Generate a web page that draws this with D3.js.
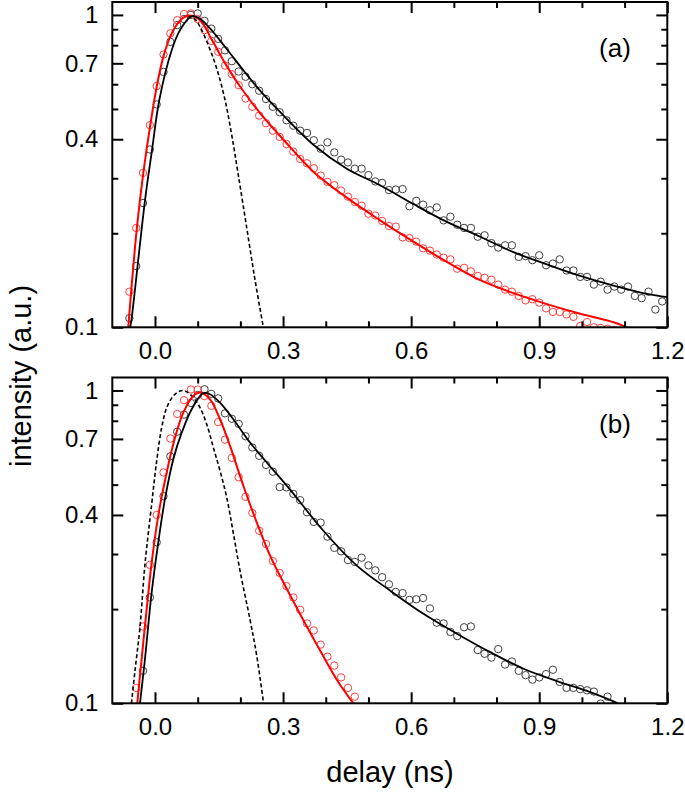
<!DOCTYPE html>
<html><head><meta charset="utf-8">
<script src="https://cdn.jsdelivr.net/npm/d3@7"></script>
<style>
body{margin:0;background:#fff}
svg{display:block}
text{font-family:"Liberation Sans",Arial,sans-serif;fill:#000}
</style>
</head><body>
<svg id="c" width="685" height="796"></svg>
<script>
// ---------- data ----------
const delay = [-0.060,-0.044,-0.028,-0.012,0.004,0.020,0.036,0.052,0.068,0.084,
0.100,0.116,0.132,0.148,0.164,0.180,0.196,0.212,0.228,0.244,
0.260,0.276,0.292,0.308,0.324,0.340,0.356,0.372,0.388,0.404,
0.420,0.436,0.452,0.468,0.484,0.500,0.516,0.532,0.548,0.564,
0.580,0.596,0.612,0.628,0.644,0.660,0.676,0.692,0.708,0.724,
0.740,0.756,0.772,0.788,0.804,0.820,0.836,0.852,0.868,0.884,
0.900,0.916,0.932,0.948,0.964,0.980,0.996,1.012,1.028,1.044,
1.060,1.076,1.092,1.108,1.124,1.140,1.156,1.172,1.188];

const aBlack = [0.107,0.157,0.250,0.371,0.517,0.657,0.820,0.928,0.970,1.000,
1.011,0.957,0.904,0.838,0.770,0.711,0.659,0.634,0.600,0.572,
0.538,0.508,0.488,0.460,0.442,0.426,0.419,0.397,0.373,0.391,
0.363,0.344,0.337,0.322,0.322,0.307,0.293,0.290,0.275,0.276,
0.277,0.244,0.254,0.247,0.237,0.242,0.220,0.226,0.213,0.208,
0.208,0.195,0.197,0.186,0.180,0.183,0.183,0.168,0.169,0.164,
0.170,0.158,0.160,0.165,0.152,0.152,0.145,0.145,0.137,0.140,
0.132,0.135,0.132,0.135,0.126,0.124,0.130,0.114,0.121];

const aRed = [0.130,0.208,0.312,0.444,0.592,0.747,0.873,0.962,1.006,1.011,
0.970,0.894,0.826,0.762,0.688,0.646,0.596,0.540,0.508,0.476,
0.450,0.426,0.407,0.386,0.365,0.346,0.335,0.323,0.306,0.292,
0.285,0.274,0.262,0.252,0.245,0.231,0.228,0.219,0.211,0.210,
0.194,0.193,0.188,0.179,0.176,0.171,0.167,0.165,0.154,0.155,
0.151,0.146,0.144,0.142,0.137,0.132,0.130,0.126,0.122,0.123,
0.120,0.115,0.112,0.112,0.110,0.108,0.101,0.104,0.100,0.0995,
0.099,0.098,0.097,null,null,null,null,null,null];

const bBlack = [null,null,0.127,0.218,0.327,0.459,0.616,0.738,0.837,0.912,
0.967,1.009,0.975,0.943,0.845,0.812,0.782,0.714,0.657,0.618,
0.578,0.550,0.491,0.490,0.467,0.446,0.408,0.380,0.378,0.341,
0.314,0.306,0.287,0.283,0.292,0.276,0.266,0.253,0.240,0.227,
0.225,0.214,0.215,0.217,0.201,0.181,0.180,0.169,0.164,0.175,
0.176,0.148,0.144,0.140,0.149,0.133,0.136,0.127,0.123,0.119,
0.121,0.124,0.128,0.117,0.112,0.112,0.111,0.110,0.109,0.0998,
0.105,0.098,null,null,null,null,null,null,null];

const bRed = [null,0.112,0.176,0.277,0.400,0.547,0.702,0.841,0.931,1.007,
1.007,0.960,0.893,0.792,0.696,0.609,0.528,0.457,0.406,0.356,
0.323,0.285,0.261,0.237,0.218,0.199,0.180,0.171,0.154,0.141,
0.132,0.121,0.112,0.105,null,null,null,null,null,null,
null,null,null,null,null,null,null,null,null,null,
null,null,null,null,null,null,null,null,null,null,
null,null,null,null,null,null,null,null,null,null,
null,null,null,null,null,null,null,null,null];

// fitted curves [delay, intensity]
const aBlackFit = [[-0.058,0.1],[-0.0546,0.107],[-0.0234,0.255],[-0.007,0.369],[0.0101,0.534],[0.0391,0.771],[0.0586,0.894],[0.086,0.991],[0.1055,0.972],[0.1289,0.905],[0.168,0.778],[0.2069,0.665],[0.2461,0.572],[0.2929,0.489],[0.371,0.384],[0.4493,0.322],[0.5273,0.285],[0.6053,0.248],[0.6836,0.2175],[0.7617,0.195],[0.8397,0.174],[0.918,0.159],[0.996,0.146],[1.074,0.136],[1.1523,0.128],[1.2,0.125]];
const aRedFit = [[-0.0626,0.1],[-0.0429,0.205],[-0.0274,0.311],[-0.0117,0.438],[0.004,0.589],[0.0195,0.734],[0.0391,0.873],[0.0586,0.958],[0.0773,0.995],[0.1055,0.962],[0.1322,0.837],[0.164,0.701],[0.1992,0.590],[0.2461,0.485],[0.300,0.400],[0.371,0.315],[0.4493,0.260],[0.5273,0.220],[0.6053,0.188],[0.6836,0.162],[0.7617,0.1415],[0.8397,0.1286],[0.918,0.1186],[0.996,0.1105],[1.074,0.1038],[1.1055,0.1]];
const aIRF = [[0.0773,0.995],[0.0914,0.977],[0.1055,0.916],[0.1249,0.800],[0.1446,0.674],[0.1641,0.534],[0.1798,0.412],[0.1952,0.307],[0.2149,0.208],[0.2344,0.1415],[0.2538,0.1]];

const bBlackFit = [[-0.0352,0.1],[-0.0234,0.139],[-0.0077,0.2265],[0.0077,0.327],[0.0234,0.450],[0.0429,0.603],[0.0626,0.733],[0.086,0.871],[0.1132,0.980],[0.1289,0.9725],[0.1523,0.914],[0.1835,0.809],[0.2226,0.6815],[0.2618,0.5885],[0.3164,0.482],[0.3944,0.356],[0.4727,0.2756],[0.5507,0.2293],[0.6288,0.1932],[0.7071,0.1669],[0.7851,0.1457],[0.8631,0.129],[0.9414,0.1178],[1.0195,0.1086],[1.085,0.1]];
const bRedFit = [[-0.0415,0.1],[-0.0312,0.139],[-0.0195,0.200],[-0.0077,0.282],[0.0077,0.398],[0.0274,0.547],[0.0469,0.707],[0.0663,0.849],[0.0898,0.960],[0.1055,0.985],[0.1289,0.937],[0.1523,0.809],[0.1758,0.665],[0.2069,0.496],[0.2383,0.379],[0.2695,0.2965],[0.3007,0.2437],[0.3398,0.193],[0.379,0.154],[0.4258,0.119],[0.4647,0.1]];
const bIRF = [[-0.0551,0.1],[-0.0469,0.127],[-0.0352,0.175],[-0.0234,0.279],[-0.0077,0.434],[0.004,0.596],[0.0157,0.761],[0.0274,0.881],[0.0429,0.960],[0.0586,0.996],[0.0703,0.996],[0.0898,0.949],[0.1055,0.881],[0.1212,0.780],[0.1367,0.657],[0.1523,0.554],[0.168,0.455],[0.1835,0.35],[0.1992,0.265],[0.2226,0.185],[0.2383,0.142],[0.2543,0.1]];

const xTicksMajor = [0.0,0.3,0.6,0.9,1.2];
const xTicksMinor = [0.1,0.2,0.4,0.5,0.7,0.8,1.0,1.1];
const yTicksMajor = [0.1,0.4,0.7,1];
const yTicksMinor = [0.2,0.3,0.5,0.6,0.8,0.9];
const panelLabels = ["(a)","(b)"];
const xTitle = "delay (ns)";
const yTitle = "intensity (a.u.)";

// ---------- drawing ----------
const svg = d3.select("#c");
const L = 112.3, R = 667.3;
const x = d3.scaleLinear().domain([-0.1,1.2]).range([L,R]);

function panel(idx, top, bottom, black, red, blackFit, redFit, irf){
  const y = d3.scaleLog().domain([0.1,1.1]).range([bottom,top]);
  const g = svg.append("g");
  const cid = "clip"+idx;
  svg.append("defs").append("clipPath").attr("id",cid)
    .append("rect").attr("x",L).attr("y",top).attr("width",R-L).attr("height",bottom-top);
  const plot = g.append("g").attr("clip-path",`url(#${cid})`);

  const pts = (arr)=>delay.map((d,i)=>[d,arr[i]]).filter(p=>p[1]!=null);
  plot.append("g").selectAll("circle").data(pts(black)).join("circle")
    .attr("cx",d=>x(d[0])).attr("cy",d=>y(d[1])).attr("r",3.7)
    .attr("fill","none").attr("stroke","#404040").attr("stroke-width",1);
  plot.append("g").selectAll("circle").data(pts(red)).join("circle")
    .attr("cx",d=>x(d[0])).attr("cy",d=>y(d[1])).attr("r",3.7)
    .attr("fill","none").attr("stroke","#ff4040").attr("stroke-width",1);

  const line = d3.line().x(d=>x(d[0])).y(d=>y(d[1])).curve(d3.curveCatmullRom.alpha(0.5));
  plot.append("path").datum(irf).attr("d",line).attr("fill","none")
    .attr("stroke","#000").attr("stroke-width",1.6).attr("stroke-dasharray","4,2.5");
  plot.append("path").datum(redFit).attr("d",line).attr("fill","none")
    .attr("stroke","#ff0000").attr("stroke-width",2);
  plot.append("path").datum(blackFit).attr("d",line).attr("fill","none")
    .attr("stroke","#000").attr("stroke-width",1.8);

  // axes
  const fmtX = d3.format(".1f");
  const fmtY = d=> d===1 ? "1" : d3.format(".1f")(d);
  const strip = s=>{ s.select(".domain").remove(); s.selectAll("line").attr("stroke","#000").attr("stroke-width",2); };

  g.append("g").attr("transform",`translate(0,${bottom})`)
    .call(d3.axisBottom(x).tickValues(xTicksMajor).tickFormat(fmtX).tickSizeInner(-11).tickSizeOuter(0).tickPadding(15))
    .call(strip).call(s=>s.selectAll("text").attr("font-size",24).attr("font-family","Liberation Sans, Arial, sans-serif"));
  g.append("g").attr("transform",`translate(0,${bottom})`)
    .call(d3.axisBottom(x).tickValues(xTicksMinor).tickFormat("").tickSizeInner(-6).tickSizeOuter(0)).call(strip);
  g.append("g").attr("transform",`translate(0,${top})`)
    .call(d3.axisTop(x).tickValues(xTicksMajor).tickFormat("").tickSizeInner(-11).tickSizeOuter(0)).call(strip);
  g.append("g").attr("transform",`translate(0,${top})`)
    .call(d3.axisTop(x).tickValues(xTicksMinor).tickFormat("").tickSizeInner(-6).tickSizeOuter(0)).call(strip);

  g.append("g").attr("transform",`translate(${L},0)`)
    .call(d3.axisLeft(y).tickValues(yTicksMajor).tickFormat(fmtY).tickSizeInner(-11).tickSizeOuter(0).tickPadding(14))
    .call(strip).call(s=>s.selectAll("text").attr("font-size",24).attr("font-family","Liberation Sans, Arial, sans-serif"));
  g.append("g").attr("transform",`translate(${L},0)`)
    .call(d3.axisLeft(y).tickValues(yTicksMinor).tickFormat("").tickSizeInner(-6).tickSizeOuter(0)).call(strip);
  g.append("g").attr("transform",`translate(${R},0)`)
    .call(d3.axisRight(y).tickValues(yTicksMajor).tickFormat("").tickSizeInner(-11).tickSizeOuter(0)).call(strip);
  g.append("g").attr("transform",`translate(${R},0)`)
    .call(d3.axisRight(y).tickValues(yTicksMinor).tickFormat("").tickSizeInner(-6).tickSizeOuter(0)).call(strip);

  g.append("rect").attr("x",L).attr("y",top).attr("width",R-L).attr("height",bottom-top)
    .attr("fill","none").attr("stroke","#000").attr("stroke-width",2);

  g.append("text").attr("x",615).attr("y",top+55).attr("text-anchor","middle")
    .attr("font-size",26).text(panelLabels[idx]);
}

panel(0, 2, 327.3, aBlack, aRed, aBlackFit, aRedFit, aIRF);
panel(1, 377.5, 703.3, bBlack, bRed, bBlackFit, bRedFit, bIRF);

svg.append("text").attr("x",390).attr("y",782).attr("text-anchor","middle")
  .attr("font-size",29).text(xTitle);
svg.append("text").attr("transform","translate(31,376) rotate(-90)").attr("text-anchor","middle")
  .attr("font-size",29).text(yTitle);
</script>
</body></html>
